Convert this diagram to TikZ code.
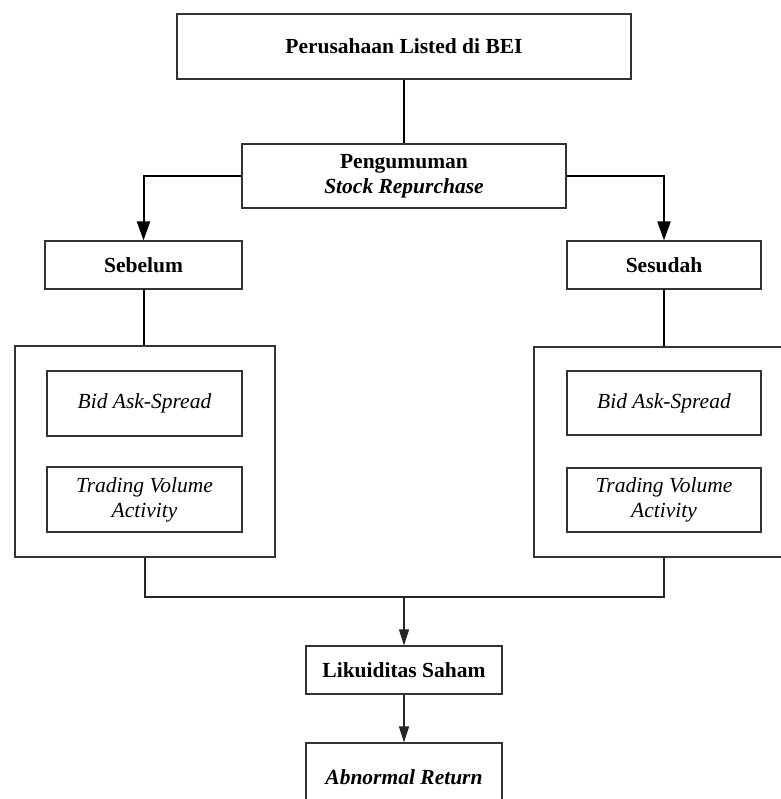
\documentclass[tikz,border=0pt]{standalone}
\usepackage{fontspec}
\setmainfont{Liberation Serif}
\usetikzlibrary{arrows.meta}
\begin{document}
\begin{tikzpicture}[x=1pt,y=-1pt,
  box/.style={draw=black!80,line width=1.1pt,inner sep=0pt,align=center,
    font=\fontsize{21.5}{25}\selectfont},
  thickline/.style={draw=black,line width=2pt},
  thinline/.style={draw=black!85,line width=1.1pt},
  bigtip/.style={-{Triangle[length=19pt,width=13pt]}},
  smalltip/.style={-{Triangle[length=16pt,width=10pt]}}]
\useasboundingbox (0,0) rectangle (780,799);
\node[box,minimum width=454pt,minimum height=65pt] (top) at (404,46.5) {\textbf{Perusahaan Listed di BEI}};
\node[box,minimum width=324pt,minimum height=64pt] (peng) at (404,176) {\textbf{Pengumuman}\\\textbf{\textit{Stock Repurchase}}};
\node[box,minimum width=197pt,minimum height=48pt] (sebelum) at (143.5,265) {\textbf{Sebelum}};
\node[box,minimum width=194pt,minimum height=48pt] (sesudah) at (664,265) {\textbf{Sesudah}};
\node[box,minimum width=260pt,minimum height=211pt] (outerL) at (145,451.5) {};
\node[box,minimum width=260pt,minimum height=210pt] (outerR) at (664,452) {};
\node[box,minimum width=195pt,minimum height=65pt] (bidL) at (144.5,403.5) {\textit{Bid Ask-Spread}};
\node[box,minimum width=195pt,minimum height=65pt] (tvL) at (144.5,499.5) {\textit{Trading Volume}\\\textit{Activity}};
\node[box,minimum width=194pt,minimum height=64pt] (bidR) at (664,403) {\textit{Bid Ask-Spread}};
\node[box,minimum width=194pt,minimum height=64pt] (tvR) at (664,500) {\textit{Trading Volume}\\\textit{Activity}};
\node[box,minimum width=196pt,minimum height=48pt] (lik) at (404,670) {\textbf{Likuiditas Saham}};
\node[box,minimum width=196pt,minimum height=68pt] (abn) at (404,777) {\textbf{\textit{Abnormal Return}}};
\coordinate (j) at (404,597);
\draw[thickline] (top.south) -- (peng.north);
\draw[thickline,bigtip] (peng.west) -| (sebelum.north);
\draw[thickline,bigtip] (peng.east) -| (sesudah.north);
\draw[thickline] (sebelum.south) -- (sebelum.south |- outerL.north);
\draw[thickline] (sesudah.south) -- (outerR.north);
\draw[thinline] (outerL.south) -- (outerL.south |- j) -- (outerR.south |- j) -- (outerR.south);
\draw[thinline,smalltip] (j) -- (lik.north);
\draw[thinline,smalltip] (lik.south) -- (abn.north);
\end{tikzpicture}
\end{document}
